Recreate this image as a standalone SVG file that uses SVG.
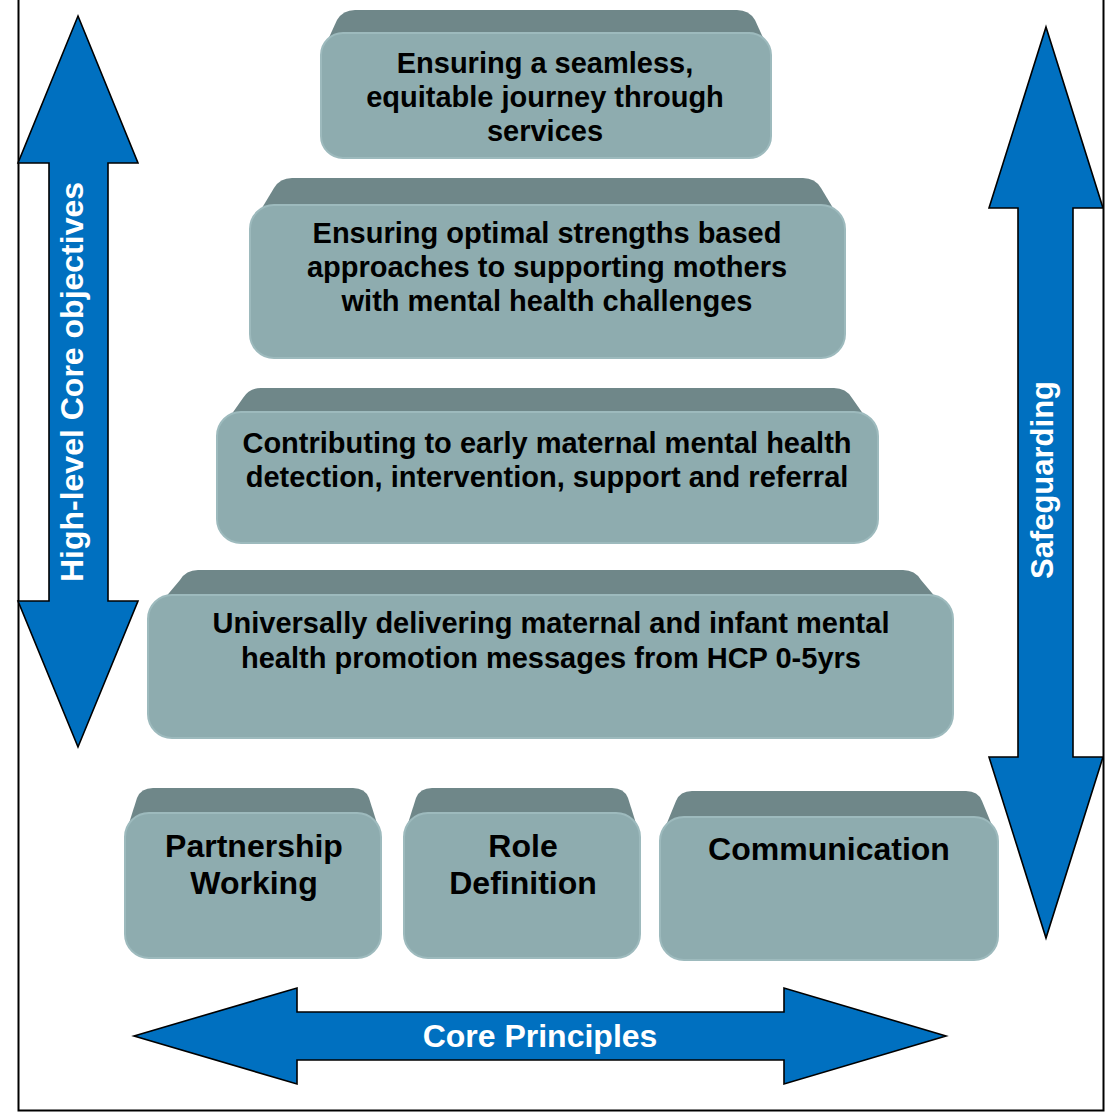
<svg xmlns="http://www.w3.org/2000/svg" width="1113" height="1112" viewBox="0 0 1113 1112">
<style>
.top{fill:#6F8789;}
.front{fill:#8EACAF;stroke:#9DBABD;stroke-width:2;}
.t{font-family:"Liberation Sans",Arial,sans-serif;font-weight:bold;fill:#000;text-anchor:middle;}
.pt{font-size:29px;}
.bt{font-size:32px;}
.arrow{fill:#0070C0;stroke:#000;stroke-width:1.6;stroke-linejoin:miter;}
.at{font-family:"Liberation Sans",Arial,sans-serif;font-weight:bold;fill:#fff;text-anchor:middle;}
</style>
<rect x="0" y="0" width="1113" height="1112" fill="#fff"/>
<path d="M18.5 0 V1110.5 H1103.5 V0" fill="none" stroke="#000" stroke-width="2"/>

<g id="connectors">
<g id="arrow-core-objectives">
<polygon class="arrow" points="78,16 138,163 108,163 108,601 138,601 78,747 18,601 49,601 49,163 18,163"/>
<text class="at" font-size="32" transform="translate(83,382) rotate(-90)">High-level Core objectives</text>
</g>
<g id="arrow-safeguarding">
<polygon class="arrow" points="1046,27 1103,208 1073,208 1073,757 1103,757 1046,938 989,757 1018,757 1018,208 989,208"/>
<text class="at" font-size="31" transform="translate(1053,480) rotate(-90)">Safeguarding</text>
</g>
<g id="arrow-core-principles">
<polygon class="arrow" points="134,1036 297,988 297,1012 784,1012 784,988 946,1036 784,1084 784,1060 297,1060 297,1084"/>
<text class="at" font-size="32" x="540" y="1047">Core Principles</text>
</g>
</g>

<g id="box-journey">
<path class="top" d="M321 55 L337 20 Q343 10 355 10 L737 10 Q749 10 755 20 L771 55 Z"/>
<rect class="front" x="321" y="33" width="450" height="125" rx="22"/>
<text class="t pt" x="545" y="73">Ensuring a seamless,</text>
<text class="t pt" x="545" y="107">equitable journey through</text>
<text class="t pt" x="545" y="141">services</text>
</g>

<g id="box-strengths">
<path class="top" d="M250 228 L274 188 Q280 178 292 178 L803 178 Q815 178 821 188 L845 228 Z"/>
<rect class="front" x="250" y="205" width="595" height="153" rx="24"/>
<text class="t pt" x="547" y="243">Ensuring optimal strengths based</text>
<text class="t pt" x="547" y="277">approaches to supporting mothers</text>
<text class="t pt" x="547" y="311">with mental health challenges</text>
</g>

<g id="box-detection">
<path class="top" d="M217 435 L243 398 Q249 388 261 388 L834 388 Q846 388 852 398 L878 435 Z"/>
<rect class="front" x="217" y="412" width="661" height="131" rx="24"/>
<text class="t pt" x="547" y="453">Contributing to early maternal mental health</text>
<text class="t pt" x="547" y="487">detection, intervention, support and referral</text>
</g>

<g id="box-promotion">
<path class="top" d="M148 618 L180 580 Q186 570 198 570 L903 570 Q915 570 921 580 L953 618 Z"/>
<rect class="front" x="148" y="595" width="805" height="143" rx="24"/>
<text class="t pt" x="551" y="633">Universally delivering maternal and infant mental</text>
<text class="t pt" x="551" y="668">health promotion messages from HCP 0-5yrs</text>
</g>

<g id="box-partnership">
<path class="top" d="M125 836 L137 798 Q141 788 153 788 L353 788 Q365 788 369 798 L381 836 Z"/>
<rect class="front" x="125" y="813" width="256" height="145" rx="24"/>
<text class="t bt" x="254" y="857">Partnership</text>
<text class="t bt" x="254" y="894">Working</text>
</g>

<g id="box-role">
<path class="top" d="M404 836 L416 798 Q420 788 432 788 L612 788 Q624 788 628 798 L640 836 Z"/>
<rect class="front" x="404" y="813" width="236" height="145" rx="24"/>
<text class="t bt" x="523" y="857">Role</text>
<text class="t bt" x="523" y="894">Definition</text>
</g>

<g id="box-communication">
<path class="top" d="M660 840 L676 801 Q680 791 692 791 L966 791 Q978 791 982 801 L998 840 Z"/>
<rect class="front" x="660" y="817" width="338" height="143" rx="24"/>
<text class="t bt" x="829" y="860">Communication</text>
</g>
</svg>
